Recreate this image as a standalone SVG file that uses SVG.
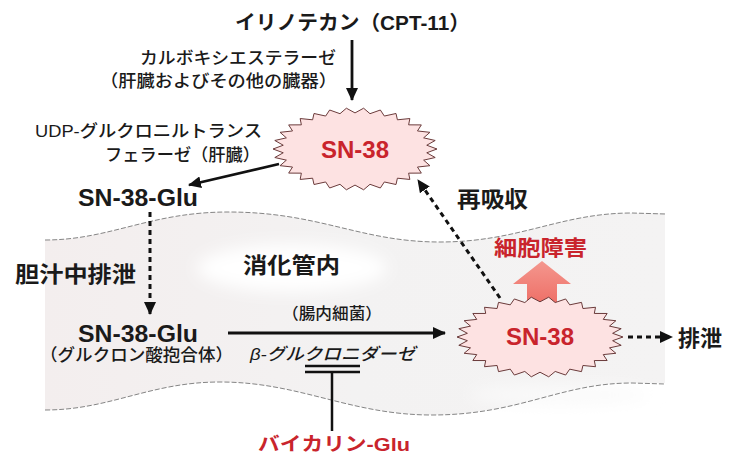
<svg xmlns="http://www.w3.org/2000/svg" width="739" height="454" viewBox="0 0 739 454">
<style>
.t{font-family:"Liberation Sans","Noto Sans CJK JP",sans-serif;fill:#1a1a1a}
.b{font-weight:bold}
.red{fill:#c9242c}
.ln{fill:none;stroke:#111;stroke-width:2.8}
.dash{fill:none;stroke:#111;stroke-width:3;stroke-dasharray:5 4}
.burst{fill:#fde2e2;stroke:#6a3a3a;stroke-width:1}
.edge{fill:none;stroke:#777;stroke-width:0.9;stroke-dasharray:5 2}
</style>
<defs>
<marker id="ah" markerUnits="userSpaceOnUse" markerWidth="13" markerHeight="12" refX="12" refY="6" orient="auto">
<path d="M0,0 L13,6 L0,12 Z" fill="#111"/>
</marker>
<polygon id="star" vector-effect="non-scaling-stroke" points="1,0 0.875,0.092 0.978,0.208 0.837,0.272 0.914,0.407 0.762,0.44 0.809,0.588 0.654,0.589 0.669,0.743 0.517,0.712 0.5,0.866 0.358,0.804 0.309,0.951 0.183,0.861 0.105,0.995 0,0.88 -0.105,0.995 -0.183,0.861 -0.309,0.951 -0.358,0.804 -0.5,0.866 -0.517,0.712 -0.669,0.743 -0.654,0.589 -0.809,0.588 -0.762,0.44 -0.914,0.407 -0.837,0.272 -0.978,0.208 -0.875,0.092 -1,0 -0.875,-0.092 -0.978,-0.208 -0.837,-0.272 -0.914,-0.407 -0.762,-0.44 -0.809,-0.588 -0.654,-0.589 -0.669,-0.743 -0.517,-0.712 -0.5,-0.866 -0.358,-0.804 -0.309,-0.951 -0.183,-0.861 -0.105,-0.995 0,-0.88 0.105,-0.995 0.183,-0.861 0.309,-0.951 0.358,-0.804 0.5,-0.866 0.517,-0.712 0.669,-0.743 0.654,-0.589 0.809,-0.588 0.762,-0.44 0.914,-0.407 0.837,-0.272 0.978,-0.208 0.875,-0.092"/>
<filter id="blur" x="-30%" y="-50%" width="160%" height="200%"><feGaussianBlur stdDeviation="8"/></filter>
<linearGradient id="redArrow" x1="0" y1="0" x2="0" y2="1">
<stop offset="0" stop-color="#f4978e"/><stop offset="1" stop-color="#ee6e66"/>
</linearGradient>
<linearGradient id="band" x1="0" y1="0" x2="1" y2="0">
<stop offset="0" stop-color="#f3eeee"/><stop offset="0.5" stop-color="#f3f2f2"/><stop offset="1" stop-color="#f4f3f3"/>
</linearGradient>
</defs>

<!-- intestine band -->
<g id="intestine">
<path d="M45,240 C110,240 150,212 228,212 C320,212 360,242 440,242 C520,242 560,213 632,213 L665,213 L665,383 L632,383 C560,383 520,415 432,415 C350,415 300,382 220,382 C150,382 110,410 45,410 Z" fill="url(#band)"/>
<ellipse cx="292" cy="268" rx="95" ry="24" fill="#ffffff" filter="url(#blur)"/>
<ellipse cx="560" cy="395" rx="90" ry="10" fill="#fafafa" filter="url(#blur)"/>
<path class="edge" d="M45,240 C110,240 150,212 228,212 C320,212 360,242 440,242 C520,242 560,213 632,213 L665,214"/>
<path class="edge" d="M45,410 C110,410 150,382 220,382 C300,382 350,415 432,415 C520,415 560,383 632,383 L665,384"/>
</g>

<!-- connectors -->
<g id="connectors">
<line class="ln" x1="352" y1="40" x2="352" y2="100" marker-end="url(#ah)"/>
<line class="ln" x1="279" y1="164" x2="189" y2="185" marker-end="url(#ah)"/>
<line class="dash" x1="150" y1="212" x2="150" y2="314" marker-end="url(#ah)"/>
<line class="dash" x1="500" y1="298" x2="418" y2="180" marker-end="url(#ah)"/>
<line class="ln" x1="228" y1="333" x2="445" y2="333" marker-end="url(#ah)"/>
<line class="dash" x1="628" y1="337" x2="672" y2="337" stroke-width="2.6" marker-end="url(#ah)"/>
<line x1="305" y1="366" x2="360" y2="366" stroke="#111" stroke-width="2.5"/>
<line x1="305" y1="372" x2="360" y2="372" stroke="#111" stroke-width="2.5"/>
<line x1="332" y1="372" x2="332" y2="431" stroke="#111" stroke-width="2.5"/>
<path d="M527,305 L527,284 L513,284 L542,261 L571,284 L557,284 L557,305 Z" fill="url(#redArrow)"/>
</g>

<g id="n-irinotecan">
<text class="t b" x="235" y="30" font-size="20" textLength="235" lengthAdjust="spacingAndGlyphs">イリノテカン（CPT-11）</text>
</g>

<g id="l-carboxylesterase">
<text class="t" x="140" y="64" font-size="17" textLength="196" lengthAdjust="spacingAndGlyphs" font-weight="500">カルボキシエステラーゼ</text>
<text class="t" x="100" y="87" font-size="17" textLength="237" lengthAdjust="spacingAndGlyphs" font-weight="500">（肝臓およびその他の臓器）</text>
</g>

<g id="l-ugt">
<text class="t" x="35" y="137" font-size="17" textLength="227" lengthAdjust="spacingAndGlyphs" font-weight="500">UDP-グルクロニルトランス</text>
<text class="t" x="105" y="161" font-size="17" textLength="155" lengthAdjust="spacingAndGlyphs" font-weight="500">フェラーゼ（肝臓）</text>
</g>

<g id="n-sn38-top">
<use href="#star" class="burst" transform="translate(355,149) scale(82,41)"/>
<text class="t b red" x="355" y="158" font-size="24" text-anchor="middle">SN-38</text>
</g>

<g id="n-sn38glu-top">
<text class="t b" x="78" y="206" font-size="23" textLength="120" lengthAdjust="spacingAndGlyphs">SN-38-Glu</text>
</g>

<g id="l-bile">
<text class="t b" x="15" y="282" font-size="22" textLength="121" lengthAdjust="spacingAndGlyphs">胆汁中排泄</text>
</g>

<g id="l-gut">
<text class="t b" x="243" y="273" font-size="22" textLength="97" lengthAdjust="spacingAndGlyphs">消化管内</text>
</g>

<g id="l-reabsorb">
<text class="t b" x="457" y="207" font-size="22" textLength="71" lengthAdjust="spacingAndGlyphs">再吸収</text>
</g>

<g id="l-cytotox">
<text class="t b red" x="494" y="255" font-size="21" textLength="93" lengthAdjust="spacingAndGlyphs">細胞障害</text>
</g>

<g id="n-sn38glu-bottom">
<text class="t b" x="78" y="342" font-size="23" textLength="120" lengthAdjust="spacingAndGlyphs">SN-38-Glu</text>
<text class="t" x="40" y="361" font-size="17" textLength="193" lengthAdjust="spacingAndGlyphs" font-weight="500">（グルクロン酸抱合体）</text>
</g>

<g id="l-enzyme">
<text class="t" x="282" y="319" font-size="16" textLength="100" lengthAdjust="spacingAndGlyphs" font-weight="500">（腸内細菌）</text>
<text class="t" x="250" y="360" font-size="17" font-style="italic" textLength="165" lengthAdjust="spacingAndGlyphs" font-weight="500">β-グルクロニダーゼ</text>
</g>

<g id="n-sn38-bottom">
<use href="#star" class="burst" transform="translate(540,337) scale(83,40)"/>
<text class="t b red" x="540" y="345" font-size="24" text-anchor="middle">SN-38</text>
</g>

<g id="n-excretion">
<text class="t b" x="678" y="346" font-size="22" textLength="44" lengthAdjust="spacingAndGlyphs">排泄</text>
</g>

<g id="n-baicalin">
<text class="t b red" x="258" y="451" font-size="19" textLength="152" lengthAdjust="spacingAndGlyphs">バイカリン-Glu</text>
</g>
</svg>
